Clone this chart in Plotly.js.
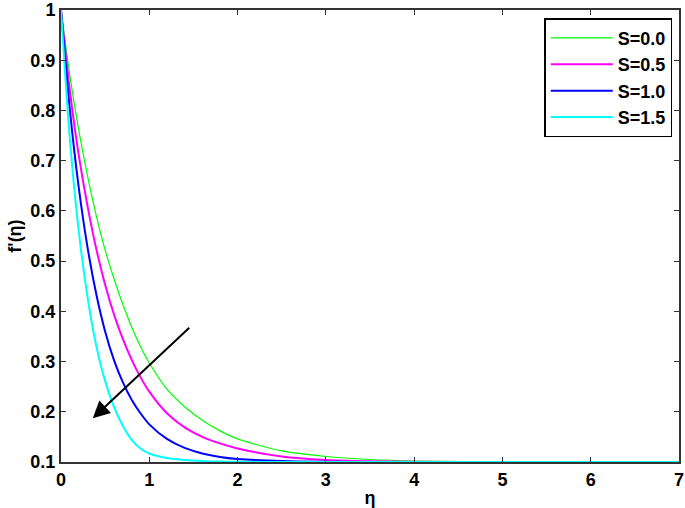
<!DOCTYPE html>
<html>
<head>
<meta charset="utf-8">
<script src="https://cdn.plot.ly/plotly-3.0.1.min.js"></script>
<style>html,body{margin:0;padding:0;background:#fff;}#chart{width:685px;height:508px;}</style>
</head>
<body>
<div id="chart"></div>
<script>
// eta grid (x values)
const eta = [0, 0.1, 0.2, 0.3, 0.4, 0.5, 0.6, 0.7, 0.8, 0.9, 1.0, 1.2, 1.4, 1.6, 1.8, 2.0, 2.5, 3.0, 3.5, 4.0, 5.0, 6.0, 7.0];
// f'(eta)
const fS00 = [1.0, 0.870, 0.762, 0.670, 0.590, 0.522, 0.465, 0.414, 0.369, 0.330, 0.297, 0.245, 0.210, 0.183, 0.162, 0.146, 0.122, 0.111, 0.105, 0.102, 0.1005, 0.100, 0.100];
const fS05 = [1.0, 0.840, 0.712, 0.610, 0.524, 0.453, 0.394, 0.345, 0.304, 0.269, 0.240, 0.197, 0.169, 0.150, 0.137, 0.127, 0.111, 0.104, 0.1015, 0.1005, 0.100, 0.100, 0.100];
const fS10 = [1.0, 0.802, 0.648, 0.528, 0.434, 0.360, 0.303, 0.259, 0.224, 0.197, 0.175, 0.146, 0.128, 0.117, 0.110, 0.106, 0.102, 0.1005, 0.100, 0.100, 0.100, 0.100, 0.100];
const fS15 = [1.0, 0.744, 0.561, 0.429, 0.331, 0.261, 0.210, 0.172, 0.144, 0.127, 0.117, 0.108, 0.104, 0.102, 0.101, 0.1005, 0.100, 0.100, 0.100, 0.100, 0.100, 0.100, 0.100];
const seriesNames = ["S=0.0", "S=0.5", "S=1.0", "S=1.5"];
const seriesValues = [fS00, fS05, fS10, fS15];
const seriesColors = ["#00ff00", "#ff00ff", "#0000ff", "#00ffff"];
const seriesWidths = [1.2, 2, 2, 2];
const xTickVals = [0, 1, 2, 3, 4, 5, 6, 7];
const yTickVals = [0.1, 0.2, 0.3, 0.4, 0.5, 0.6, 0.7, 0.8, 0.9, 1];
const yTickText = ["0.1", "0.2", "0.3", "0.4", "0.5", "0.6", "0.7", "0.8", "0.9", "1"];
// arrow: [eta, f] of tail and head
const arrowTail = [1.47, 0.370];
const arrowHead = [0.36, 0.187];

const fam = "Liberation Sans, Arial, sans-serif";
const boldFont = (s) => ({family: fam, size: s, color: "#000", weight: "bold"});
const traces = seriesNames.map((n, i) => ({
  x: eta, y: seriesValues[i], name: n, type: "scatter", mode: "lines",
  line: {color: seriesColors[i], width: seriesWidths[i], shape: "spline", smoothing: 0.8}
}));

const axisCommon = {
  showgrid: false, zeroline: false, showline: true, mirror: "ticks",
  linecolor: "#333", linewidth: 2, ticks: "inside", ticklen: 5, tickwidth: 1.2, tickcolor: "#333",
  tickfont: boldFont(18), ticklabeloverflow: "allow"
};

const layout = {
  width: 685, height: 508,
  margin: {l: 61, r: 6, t: 10, b: 46},
  paper_bgcolor: "#fff", plot_bgcolor: "#fff",
  font: {family: fam, size: 18, color: "#000"},
  showlegend: true,
  legend: {
    x: 0.782, y: 0.982, xanchor: "left", yanchor: "top",
    bordercolor: "#000", borderwidth: 1.5, bgcolor: "#fff",
    font: boldFont(18),
    itemwidth: 62
  },
  xaxis: Object.assign({}, axisCommon, {
    range: [0, 7], tickvals: xTickVals,
    title: {text: "η", font: boldFont(18), standoff: 4}
  }),
  yaxis: Object.assign({}, axisCommon, {
    range: [0.1, 1], tickvals: yTickVals, ticktext: yTickText,
    title: {text: "f'(η)", font: boldFont(18), standoff: 4}
  }),
  annotations: [{
    x: arrowHead[0], y: arrowHead[1], ax: arrowTail[0], ay: arrowTail[1],
    xref: "x", yref: "y", axref: "x", ayref: "y",
    showarrow: true, arrowhead: 2, arrowsize: 1.7, arrowwidth: 2, arrowcolor: "#000", text: ""
  }]
};

Plotly.newPlot("chart", traces, layout, {displayModeBar: false, staticPlot: true});
</script>
</body>
</html>
